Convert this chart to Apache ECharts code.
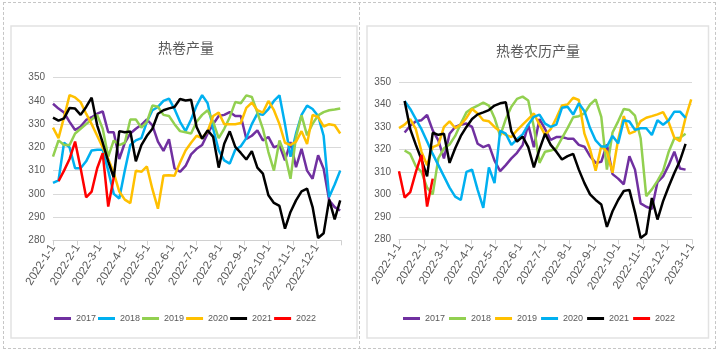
<!DOCTYPE html>
<html>
<head>
<meta charset="utf-8">
<script src="https://cdn.jsdelivr.net/npm/echarts@6/dist/echarts.min.js"></script>
<style>
  html, body { margin: 0; padding: 0; background: #fff; }
  #page { position: relative; width: 720px; height: 349px; overflow: hidden; }
  #frame { position: absolute; left: 3px; top: 2px; width: 713px; height: 347px; box-sizing: border-box; border: 1px dashed #c6c6c6; }
  #divider { position: absolute; left: 359px; top: 2px; width: 0; height: 347px; border-left: 1px dashed #c6c6c6; }
  .chart { position: absolute; top: 0; width: 360px; height: 349px; }
  #solarChart { left: 0; }
  #lunarChart { left: 360px; }
</style>
</head>
<body>
<div id="page">
  <div id="frame"></div>
  <div id="divider"></div>
  <div id="solarChart" class="chart"></div>
  <div id="lunarChart" class="chart"></div>
</div>
<script>
// ---- axis labels (month starts, offsets in days from 2022-1-1) ----
const monthStartDays = [0, 31, 59, 90, 120, 151, 181, 212, 243, 273, 304, 334, 365];
const monthLabels = ['2022-1-1', '2022-2-1', '2022-3-1', '2022-4-1', '2022-5-1', '2022-6-1',
  '2022-7-1', '2022-8-1', '2022-9-1', '2022-10-1', '2022-11-1', '2022-12-1', '2023-1-1'];
const yTicks = { min: 280, max: 350, step: 10 };
const years = ['2017', '2018', '2019', '2020', '2021', '2022'];

// ---- weekly output, solar calendar (one value per week from 2022-1-1) ----
const solar2017 = [338.8, 336.7, 335, 331, 327.5, 329, 331.8, 333, 334.5, 335.5,
  326.5, 326.5, 315, 322, 326, 328, 329.7, 332, 329.5, 322.5,
  318.5, 323.5, 311, 309.5, 312, 317, 319.4, 321, 326, 330,
  333.5, 334, 335.2, 333.5, 333.5, 323.7, 325, 327.3, 323, 324.5,
  320, 321, 314.4, 322.3, 311.5, 319.4, 310, 306.5, 316.6, 310.8,
  297.2, 294.3, 292.8];
const solar2018 = [304.7, 305.8, 322, 320, 311, 311, 314, 318.7, 319, 319,
  310, 300, 298, 310, 321, 323, 324, 331, 336, 337.4,
  340, 341, 336.5, 331, 327, 332, 338, 342.5, 339, 328,
  318.7, 314.4, 313, 319, 320.5, 324, 330, 334.5, 334, 336.5,
  340, 342.4, 330, 316, 326, 334, 338, 336.5, 333.5, 325,
  298.6, 304, 310];
const solar2019 = [316, 323, 321, 321, 326, 328, 330, 332, 334, 328,
  316, 323, 321, 322, 332, 332, 328.5, 331, 338, 337.5,
  334, 333.5, 330, 327, 326.5, 326, 331, 334, 336, 331,
  324, 328, 333, 339.5, 339, 342.4, 341.7, 335, 328, 318,
  310, 323, 317, 306.5, 324.5, 333.8, 325.2, 330.2, 333.8, 335.2,
  336, 336.3, 336.7];
const solar2020 = [328.5, 324, 333, 342.5, 341.5, 339.5, 334.5, 330, 325, 320,
  315, 309, 301, 297.5, 296, 310, 309.5, 311.8, 302, 293.6,
  307.9, 308, 307.8, 313.5, 318.7, 322, 325, 324, 327, 333.5,
  335, 330, 330, 330, 330.5, 337, 339.3, 336, 335, 340,
  336, 330, 322, 321, 322.5, 327, 321.5, 334, 333, 329,
  330, 329.5, 326];
const solar2021 = [332.8, 331.5, 332.5, 337, 336.7, 334, 337.4, 341.4, 329.5, 322,
  314, 307, 327, 326.5, 326.8, 314, 321, 325, 328, 334.5,
  336, 336.8, 337.4, 340.8, 340.2, 340.5, 328.8, 323.7, 327.3, 324.5,
  311.3, 321.6, 326.9, 320.2, 317.6, 314.8, 318.4, 311.3, 308.7, 299.4,
  296.1, 294.8, 285, 292.2, 297.2, 301.1, 302.2, 294.3, 281, 283,
  297.5, 289, 297.2];
const solar2022 = [null, 305.5, 310, 315, 322.5, 311, 298.5, 301, 311, 317.5,
  294.5, 307];

// ---- weekly output, aligned by lunar calendar ----
const lunar2017 = [null, 327.5, 330.5, 332.5, 333, 335.3, 328.5, 324, 316, 327,
  330, 331, 331.5, 330, 322.5, 321, 322, 315, 310.3, 313,
  316, 318.5, 322, 331, 321, 333.5, 329, 324.2, 325.5, 325.5,
  324.8, 324.8, 322, 321.2, 317, 314, 314.5, 322.2, 309, 307,
  304.5, 317, 311, 296, 294.5, 293.5, 305.5, 308, 313, 319,
  311.5, 311];
const lunar2018 = [null, 319.5, 318, 312.5, 310, 303, 300, 316, 320.5, 322.2,
  326, 331.5, 336.5, 338.3, 339.5, 340.8, 339.5, 334, 326, 333.5,
  339, 342.5, 343.5, 341.8, 330, 314, 319, 319.5, 320.5, 325,
  329.5, 334.3, 334.8, 336, 340, 342.3, 334.5, 311, 327.5, 332.5,
  338, 337.5, 335, 325, 299.2, 302.2, 306, 310.5, 319, 325,
  325.2, 327];
const lunar2019 = [329.5, 331, 333.5, 329, 319, 313, 321, 322, 330, 332.5,
  329.5, 331, 334, 338, 336, 333, 332.5, 330, 328, 326.5,
  325.5, 328.5, 331, 333.5, 336, 331, 326.5, 329, 334, 339.5,
  340, 343, 342, 327, 320, 310.5, 321.5, 319, 309.6, 324.4,
  334.8, 327, 328, 332.6, 334.1, 334.8, 335.6, 336.6, 332, 325.2,
  323.7, 334.1, 342.3];
const lunar2020 = [null, 341.5, 338, 333.5, 329, 323.5, 318, 313, 308, 303,
  299, 297.5, 310, 311, 302, 294, 312, 305, 328.2, 327,
  322, 324.5, 326.7, 331, 334.5, 335.5, 331.5, 330, 331, 338.5,
  339, 335.5, 340.5, 337, 329.5, 324, 321.3, 321.3, 326, 322.7,
  333, 332.4, 328.7, 329.4, 329.4, 326.4, 333, 331, 333, 336.8,
  336.8, 334];
const lunar2021 = [null, 341.5, 329, 322, 315.5, 308, 327.4, 326.5, 327, 314,
  320.5, 326, 330, 333.5, 335.6, 336.5, 337.5, 339.5, 340.5, 341,
  328, 323.5, 325.7, 321, 312, 320, 327, 322, 319, 315.5,
  317, 318, 311, 305, 300, 297.5, 295.5, 285.5, 292.5, 297.5,
  301.5, 302, 292, 280.6, 282.5, 298.4, 288.8, 297, 303.5, 309.5,
  315, 322.5];
const lunar2022 = [310.3, 298.6, 301, 310, 317.6, 294.6, 307];

const solarColors = ['#7030A0', '#00B0F0', '#92D050', '#FFC000', '#000000', '#FF0000'];
const lunarColors = ['#7030A0', '#92D050', '#FFC000', '#00B0F0', '#000000', '#FF0000'];

const TEXT_GREY = '#595959';
const SANS = "'Liberation Sans', sans-serif";
const CJK = "'Noto Sans CJK SC', sans-serif";

// week index -> [day offset, value]
function weeklyPoints(values) {
  const pts = [];
  values.forEach((v, i) => { if (v != null) pts.push([i * 7, v]); });
  return pts;
}

function buildOption(cfg) {
  const series = cfg.data.map((vals, k) => ({
    name: years[k],
    type: 'line',
    data: weeklyPoints(vals),
    showSymbol: false,
    symbol: 'none',
    smooth: false,
    color: cfg.colors[k],
    lineStyle: { width: 2.5, color: cfg.colors[k] },
    emphasis: { disabled: true },
    animation: false
  }));
  return {
    animation: false,
    graphic: [
      {
        type: 'rect', z: 0, silent: true,
        shape: cfg.box,
        style: { fill: 'none', stroke: '#e2e2e2', lineWidth: 1.5 }
      },
      {
        type: 'text', z: 5, silent: true,
        x: cfg.titleX, y: cfg.titleY,
        style: {
          text: cfg.title, fill: TEXT_GREY,
          font: '14px ' + CJK, align: 'center', verticalAlign: 'middle'
        }
      }
    ],
    legend: {
      data: years,
      left: cfg.legendLeft, top: 314, padding: 0,
      icon: 'rect', itemWidth: 17, itemHeight: 3, itemGap: cfg.legendGap,
      textStyle: { color: TEXT_GREY, fontSize: 9, fontFamily: SANS },
      selectedMode: false
    },
    grid: cfg.grid,
    xAxis: {
      type: 'value',
      min: 0, max: 365,
      axisLine: { show: true, lineStyle: { color: '#d0d0d0', width: 1 } },
      axisTick: { show: true, length: 5, customValues: monthStartDays, lineStyle: { color: '#d0d0d0' } },
      splitLine: { show: false },
      axisLabel: {
        customValues: cfg.labelDays,
        formatter: v => monthLabels[monthStartDays.indexOf(v)],
        rotate: 58, margin: 5,
        color: TEXT_GREY, fontSize: 11.5, fontFamily: SANS
      }
    },
    yAxis: {
      type: 'value',
      min: yTicks.min, max: yTicks.max, interval: yTicks.step,
      axisLine: { show: false },
      axisTick: { show: false },
      splitLine: { lineStyle: { color: '#d9d9d9', width: 1 } },
      axisLabel: { color: TEXT_GREY, fontSize: 10, fontFamily: SANS, margin: 8 }
    },
    series: series
  };
}

const solarChart = echarts.init(document.getElementById('solarChart'), null, { renderer: 'canvas' });
solarChart.setOption(buildOption({
  title: '热卷产量',
  titleX: 186, titleY: 48,
  box: { x: 11, y: 26, width: 346, height: 312 },
  grid: { left: 53, top: 77.7, width: 288, height: 162.6 },
  legendLeft: 54, legendGap: 2,
  labelDays: monthStartDays.slice(0, 12),
  colors: solarColors,
  data: [solar2017, solar2018, solar2019, solar2020, solar2021, solar2022]
}));

const lunarChart = echarts.init(document.getElementById('lunarChart'), null, { renderer: 'canvas' });
lunarChart.setOption(buildOption({
  title: '热卷农历产量',
  titleX: 178, titleY: 51,
  box: { x: 7, y: 26, width: 341.5, height: 312 },
  grid: { left: 39, top: 82, width: 293, height: 157.3 },
  legendLeft: 43, legendGap: 4,
  labelDays: monthStartDays,
  colors: lunarColors,
  data: [lunar2017, lunar2018, lunar2019, lunar2020, lunar2021, lunar2022]
}));
</script>
</body>
</html>
